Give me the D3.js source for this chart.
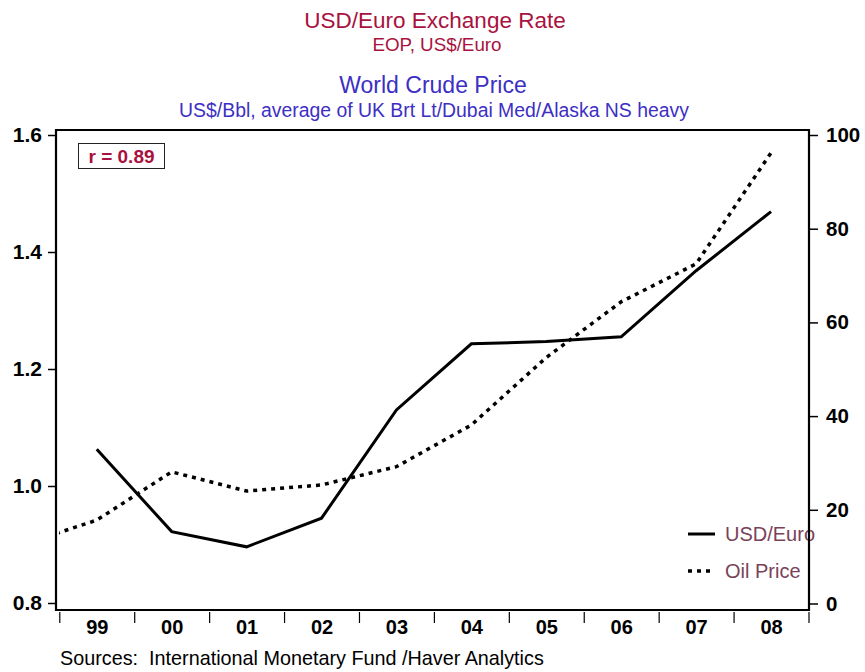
<!DOCTYPE html>
<html>
<head>
<meta charset="utf-8">
<script src="https://cdn.jsdelivr.net/npm/d3@7"></script>
<style>
  body { margin: 0; background: #fff; }
  svg { display: block; font-family: "Liberation Sans", Arial, sans-serif; }
</style>
</head>
<body>
<script>
'use strict';

// values (1998 oil point sits outside the frame, clipped)
const years = [1998, 1999, 2000, 2001, 2002, 2003, 2004, 2005, 2006, 2007, 2008];
const usdEuro = [null, 1.063, 0.922, 0.896, 0.945, 1.130, 1.243, 1.247, 1.255, 1.368, 1.469];
const oilPrice = [12.5, 17.8, 28.1, 24.0, 25.3, 29.2, 38.1, 52.5, 64.4, 72.5, 96.2];
const tickLabels = ["99", "00", "01", "02", "03", "04", "05", "06", "07", "08"];
const leftTicks = [0.8, 1.0, 1.2, 1.4, 1.6];
const rightTicks = [0, 20, 40, 60, 80, 100];

const width = 865, height = 672;
const frameL = 56, frameR = 809, frameT = 130, frameB = 610;

let svg = d3.select("body").append("svg")
    .attr("width", width)
    .attr("height", height);

svg.append("rect").attr("width", width).attr("height", height).attr("fill", "#fff");

let x = d3.scaleLinear().domain([1998.5, 2008.5]).range([59.3, 808.5]);
let yL = d3.scaleLinear().domain([0.8, 1.6]).range([603, 135]);
let yR = d3.scaleLinear().domain([0, 100]).range([603.5, 135]);

// titles
const red = "#a8123e", blue = "#3d2fc4";
svg.append("text").attr("x", 435).attr("y", 28).attr("text-anchor", "middle")
    .attr("font-size", 22.5).attr("fill", red).text("USD/Euro Exchange Rate");
svg.append("text").attr("x", 437).attr("y", 51).attr("text-anchor", "middle")
    .attr("font-size", 18.8).attr("fill", red).text("EOP, US$/Euro");
svg.append("text").attr("x", 433).attr("y", 93).attr("text-anchor", "middle")
    .attr("font-size", 23).attr("fill", blue).text("World Crude Price");
svg.append("text").attr("x", 434).attr("y", 117).attr("text-anchor", "middle")
    .attr("font-size", 19.4).attr("fill", blue)
    .text("US$/Bbl, average of UK Brt Lt/Dubai Med/Alaska NS heavy");

// clip for lines
svg.append("clipPath").attr("id", "plot")
    .append("rect").attr("x", 59).attr("y", frameT).attr("width", 808.5 - 59).attr("height", frameB - frameT);

let lineUsd = d3.line()
    .defined(d => d[1] != null)
    .x(d => x(d[0]))
    .y(d => yL(d[1]));
let lineOil = d3.line()
    .x(d => x(d[0]))
    .y(d => yR(d[1]));

svg.append("path")
    .datum(years.map((yr, i) => [yr, oilPrice[i]]))
    .attr("clip-path", "url(#plot)")
    .attr("d", lineOil)
    .attr("fill", "none")
    .attr("stroke", "#000")
    .attr("stroke-width", 3.5)
    .attr("stroke-dasharray", "4,5");

svg.append("path")
    .datum(years.map((yr, i) => [yr, usdEuro[i]]))
    .attr("clip-path", "url(#plot)")
    .attr("d", lineUsd)
    .attr("fill", "none")
    .attr("stroke", "#000")
    .attr("stroke-width", 3)
    .attr("stroke-linejoin", "miter");

// legend (drawn before the frame so the axis line sits on top of the text)
const legendColor = "#7a4259";
const legend = [
    { name: "USD/Euro", dash: null, w: 3, y: 534 },
    { name: "Oil Price", dash: "4,5", w: 3.5, y: 571 }
];
legend.forEach(l => {
    svg.append("line").attr("x1", 688).attr("x2", 715).attr("y1", l.y).attr("y2", l.y)
        .attr("stroke", "#000").attr("stroke-width", l.w)
        .attr("stroke-dasharray", l.dash);
    svg.append("text").attr("x", 725).attr("y", l.y + 7)
        .attr("font-size", 20).attr("fill", legendColor).text(l.name);
});

// frame
svg.append("path")
    .attr("d", `M${frameL},${frameB}V${frameT}H${frameR}V${frameB}H${frameL}Z`)
    .attr("fill", "none").attr("stroke", "#000").attr("stroke-width", 2.2);

// left axis
let gL = svg.append("g").attr("transform", `translate(${frameL},0)`)
    .call(d3.axisLeft(yL).tickValues(leftTicks).tickSize(8).tickPadding(6).tickFormat(d3.format(".1f")));
gL.select(".domain").remove();
gL.selectAll(".tick line").attr("stroke-width", 1.5);
gL.selectAll(".tick text").attr("font-size", 21).attr("font-weight", "bold")
    .attr("font-family", "Liberation Sans, Arial, sans-serif").attr("fill", "#000");

// right axis
let gR = svg.append("g").attr("transform", `translate(${frameR},0)`)
    .call(d3.axisRight(yR).tickValues(rightTicks).tickSize(9).tickPadding(8));
gR.select(".domain").remove();
gR.selectAll(".tick line").attr("stroke-width", 1.5);
gR.selectAll(".tick text").attr("font-size", 20.5).attr("font-weight", "bold")
    .attr("font-family", "Liberation Sans, Arial, sans-serif").attr("fill", "#000");

// bottom ticks at band edges
let gB = svg.append("g").attr("transform", `translate(0,${frameB + 2})`)
    .call(d3.axisBottom(x).tickValues(d3.range(1998.5, 2009, 1)).tickSize(11).tickFormat(""));
gB.select(".domain").remove();
gB.selectAll(".tick line").attr("stroke-width", 1.2);

// bottom labels at band centres
let gBL = svg.append("g").attr("transform", `translate(0,${frameB + 2})`)
    .call(d3.axisBottom(x).tickValues(years.slice(1)).tickSize(0).tickPadding(8)
        .tickFormat((d, i) => tickLabels[i]));
gBL.select(".domain").remove();
gBL.selectAll(".tick text").attr("font-size", 20).attr("font-weight", "bold")
    .attr("font-family", "Liberation Sans, Arial, sans-serif").attr("fill", "#000");

// correlation box
svg.append("rect").attr("x", 78.5).attr("y", 143.5).attr("width", 86).attr("height", 25)
    .attr("fill", "#fff").attr("stroke", "#222").attr("stroke-width", 1);
svg.append("text").attr("x", 121.5).attr("y", 163).attr("text-anchor", "middle")
    .attr("font-size", 19).attr("font-weight", "bold").attr("fill", red).text("r = 0.89");

// source
svg.append("text").attr("x", 60).attr("y", 665).attr("font-size", 19.8).attr("fill", "#000")
    .style("white-space", "pre")
    .text("Sources:  International Monetary Fund /Haver Analytics");
</script>
</body>
</html>
